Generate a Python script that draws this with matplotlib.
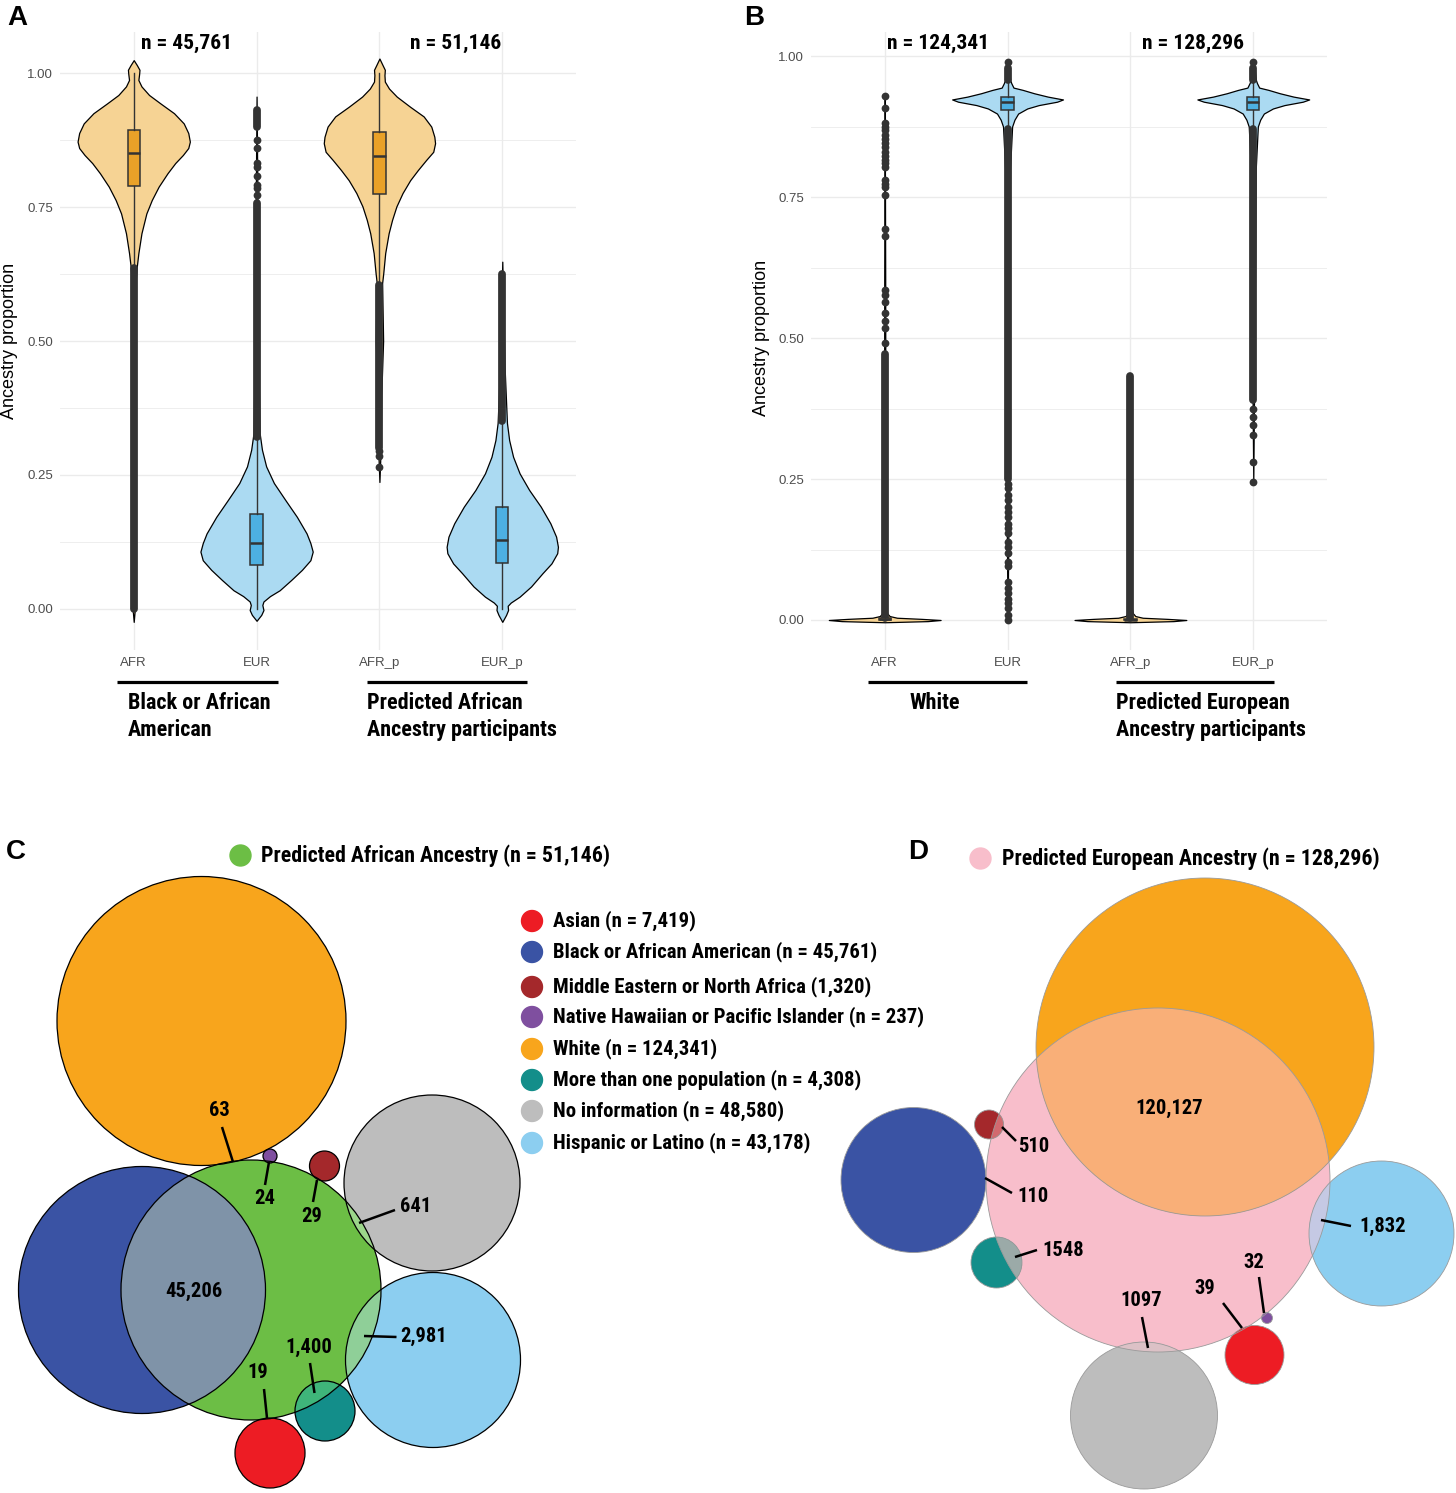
import numpy as np
import matplotlib
matplotlib.use("Agg")
import matplotlib.pyplot as plt
from matplotlib import font_manager as fm
from matplotlib.patches import Ellipse
from matplotlib.lines import Line2D

# ======================= DATA : panels A and B =======================
categories = ["AFR", "EUR", "AFR_p", "EUR_p"]
a_n_labels = ["n = 45,761", "n = 51,146"]
b_n_labels = ["n = 124,341", "n = 128,296"]
a_groups = ["Black or African\nAmerican", "Predicted African\nAncestry participants"]
b_groups = ["White", "Predicted European\nAncestry participants"]
y_label = "Ancestry proportion"

# violin outlines: ancestry value and half width (category units)
a_afr_y = [1.024, 1.015, 1.006, 0.998, 0.987, 0.975, 0.959, 0.943, 0.925, 0.906, 0.888, 0.872,
           0.860, 0.847, 0.832, 0.813, 0.788, 0.763, 0.738, 0.701, 0.664, 0.639, 0.60, 0.40, 0.20, 0.0, -0.024]
a_afr_w = [0.0, 0.025, 0.047, 0.044, 0.038, 0.063, 0.125, 0.219, 0.328, 0.407, 0.444, 0.457,
           0.444, 0.400, 0.338, 0.275, 0.203, 0.147, 0.103, 0.063, 0.038, 0.025, 0.012, 0.009, 0.009, 0.009, 0.0]
a_eur_y = [0.956, 0.70, 0.50, 0.328, 0.297, 0.266, 0.235, 0.203, 0.172, 0.141, 0.123, 0.107, 0.091,
           0.073, 0.054, 0.035, 0.024, 0.014, 0.0075, -0.002, -0.011, -0.022]
a_eur_w = [0.0, 0.009, 0.012, 0.025, 0.044, 0.078, 0.141, 0.235, 0.328, 0.407, 0.438, 0.457, 0.438,
           0.369, 0.281, 0.188, 0.109, 0.056, 0.047, 0.056, 0.038, 0.0]
a_afrp_y = [1.027, 1.015, 1.006, 0.996, 0.984, 0.971, 0.956, 0.937, 0.919, 0.900, 0.881, 0.869,
            0.853, 0.838, 0.819, 0.800, 0.776, 0.751, 0.726, 0.701, 0.664, 0.626, 0.608, 0.50, 0.40, 0.30, 0.237]
a_afrp_w = [0.0, 0.025, 0.044, 0.041, 0.044, 0.078, 0.141, 0.250, 0.360, 0.422, 0.447, 0.453,
            0.438, 0.381, 0.313, 0.250, 0.188, 0.138, 0.103, 0.075, 0.047, 0.031, 0.022, 0.030, 0.015, 0.010, 0.0]
a_eurp_y = [0.648, 0.55, 0.45, 0.347, 0.315, 0.284, 0.253, 0.222, 0.191, 0.160, 0.135, 0.116, 0.104,
            0.085, 0.067, 0.042, 0.023, 0.012, 0.006, -0.002, -0.011, -0.024]
a_eurp_w = [0.0, 0.009, 0.019, 0.038, 0.056, 0.088, 0.141, 0.219, 0.313, 0.391, 0.438, 0.453, 0.447,
            0.400, 0.328, 0.234, 0.141, 0.069, 0.044, 0.047, 0.031, 0.0]

b_afr_y = [-0.004, -0.002, 0.0, 0.002, 0.004, 0.007, 0.012, 0.02, 0.05, 0.3, 0.6, 0.93]
b_afr_w = [0.0, 0.35, 0.455, 0.30, 0.10, 0.04, 0.02, 0.012, 0.008, 0.005, 0.004, 0.0]
b_eur_y = [-0.001, 0.2, 0.5, 0.80, 0.875, 0.887, 0.898, 0.907, 0.913, 0.919, 0.923, 0.928,
           0.934, 0.940, 0.944, 0.952, 0.957, 0.975, 0.99]
b_eur_w = [0.0, 0.008, 0.010, 0.020, 0.037, 0.056, 0.086, 0.160, 0.254, 0.403, 0.451, 0.328,
           0.216, 0.123, 0.048, 0.030, 0.022, 0.012, 0.0]
b_afrp_y = [-0.004, -0.002, 0.0, 0.002, 0.004, 0.007, 0.012, 0.02, 0.05, 0.2, 0.432]
b_afrp_w = [0.0, 0.35, 0.455, 0.30, 0.10, 0.04, 0.02, 0.012, 0.008, 0.005, 0.0]
b_eurp_y = [0.245, 0.5, 0.80, 0.875, 0.887, 0.898, 0.907, 0.913, 0.919, 0.923, 0.928,
            0.934, 0.940, 0.944, 0.952, 0.957, 0.975, 0.99]
b_eurp_w = [0.0, 0.010, 0.020, 0.037, 0.056, 0.086, 0.160, 0.254, 0.403, 0.455, 0.328,
            0.216, 0.123, 0.048, 0.030, 0.022, 0.012, 0.0]

# box statistics (q1, median, q3, whiskers)
a_q1 = [0.790, 0.083, 0.775, 0.085]
a_med = [0.850, 0.124, 0.846, 0.129]
a_q3 = [0.894, 0.177, 0.890, 0.191]
a_lo = [0.636, 0.000, 0.605, 0.000]
a_hi = [1.000, 0.320, 1.000, 0.350]
b_q1 = [0.000, 0.904, 0.000, 0.905]
b_med = [0.001, 0.918, 0.0005, 0.918]
b_q3 = [0.004, 0.928, 0.002, 0.928]
b_lo = [0.000, 0.868, 0.000, 0.870]
b_hi = [0.010, 0.963, 0.005, 0.963]

# outliers: densely packed ranges and single points
a_dense = [[(0.0, 0.636)], [(0.32, 0.757), (0.900, 0.931)], [(0.30, 0.605)], [(0.35, 0.625)]]
a_points = [[], [0.772, 0.785, 0.791, 0.808, 0.825, 0.832, 0.860, 0.875], [0.264, 0.285, 0.295], []]
b_dense = [[(0.004, 0.472)], [(0.25, 0.87), (0.958, 0.978)], [(0.003, 0.432)], [(0.39, 0.87), (0.958, 0.978)]]
b_points = [[0.930, 0.908, 0.881, 0.875, 0.869, 0.860, 0.852, 0.845, 0.838, 0.830, 0.823, 0.816, 0.810,
             0.804, 0.780, 0.773, 0.767, 0.754, 0.693, 0.681, 0.586, 0.576, 0.564, 0.544, 0.531, 0.517, 0.491],
            [0.0, 0.009, 0.021, 0.030, 0.038, 0.047, 0.056, 0.068, 0.095, 0.103, 0.118, 0.130, 0.139,
             0.154, 0.163, 0.171, 0.183, 0.192, 0.201, 0.213, 0.222, 0.234, 0.242, 0.99],
            [],
            [0.245, 0.281, 0.328, 0.346, 0.360, 0.375, 0.99]]

# ======================= DATA : panels C and D =======================
race_groups = ["Asian (n = 7,419)", "Black or African American (n = 45,761)",
               "Middle Eastern or North Africa (1,320)", "Native Hawaiian or Pacific Islander (n = 237)",
               "White (n = 124,341)", "More than one population (n = 4,308)",
               "No information (n = 48,580)", "Hispanic or Latino (n = 43,178)"]
race_colors = ["#ED1C24", "#3A53A4", "#A4282B", "#7F4F9F", "#F8A51C", "#138E8A", "#BDBDBD", "#8CCEF0"]
c_title = "Predicted African Ancestry (n = 51,146)"
d_title = "Predicted European Ancestry (n = 128,296)"
c_main_color = "#6CBE45"
d_main_color = "#F8BECB"
c_counts = ["19", "45,206", "29", "24", "63", "1,400", "641", "2,981"]
d_counts = ["39", "110", "510", "32", "120,127", "1548", "1097", "1,832"]
c_overlap_colors = [None, "#7F93A8", None, None, None, "#3FB57A", "#9CD68A", "#8FCF98"]
d_overlap_colors = [None, None, "#D2696E", None, "#F9AF78", "#9BAAA8", "#DCC1C6", "#C5C9E4"]

# ======================= LAYOUT (pixels) =======================
W, H = 1456, 1493
fig = plt.figure(figsize=(W / 100, H / 100), dpi=100)
renderer = fig.canvas.get_renderer()


def fx(px):
    return px / W


def fy(py):
    return 1 - py / H


def has_font(name, weight="normal"):
    try:
        fm.findfont(fm.FontProperties(family=name, weight=weight), fallback_to_default=False)
        return True
    except Exception:
        return False


NARROW = ["Liberation Sans", "DejaVu Sans"]
for cand in ["Liberation Sans Narrow", "Roboto Condensed", "Arial Narrow", "Open Sans Condensed",
             "Nimbus Sans Narrow"]:
    if has_font(cand, "bold"):
        NARROW = [cand, "DejaVu Sans"]
        break
SANS = ["Liberation Sans", "DejaVu Sans"]


def fit_size(sample, target_px, family=NARROW, weight="bold"):
    t = fig.text(0, 0, sample, fontsize=20, weight=weight, family=family)
    w = t.get_window_extent(renderer).width
    t.remove()
    return 20 * target_px / w


FS_LEG = fit_size("Black or African American (n = 45,761)", 324)
FS_N = fit_size("n = 45,761", 91)
FS_GRP = fit_size("Black or African", 143)
FS_HEAD = fit_size(c_title, 349)
FS_CNT = fit_size("45,206", 57)

# circle layout: centre x, centre y, diameter
c_main = (251, 1290, 260)
c_cx = [270, 142, 324.5, 270, 201.5, 325, 432, 433]
c_cy = [1453, 1290, 1166, 1156, 1021, 1411, 1183, 1360]
c_dm = [70, 247, 30, 14, 289, 60, 176, 175]
c_lab = [(258, 1373), (194, 1291), (312, 1216), (265, 1198), (219, 1111), (309, 1347), (416, 1207), (424, 1336)]
c_lead = [((264, 1389), (267, 1418)), None, ((317, 1180), (313, 1202)), ((269, 1162), (265, 1185)),
          ((222, 1127), (233, 1162)), ((310, 1363), (314.5, 1393)), ((359, 1223), (395, 1210)),
          ((364, 1336), (396.5, 1337))]
d_main = (1158, 1180, 344)
d_cx = [1254.5, 913.5, 989, 1267, 1205, 996.5, 1144, 1381.5]
d_cy = [1355, 1180, 1124.5, 1318, 1047, 1262.5, 1415.5, 1233.5]
d_dm = [59, 145, 29, 11, 338, 51, 147, 145]
d_lab = [(1205, 1288), (1033, 1197), (1034, 1147), (1254, 1263), (1169, 1108), (1063, 1250), (1141, 1300), (1383, 1226)]
d_lead = [((1223, 1303), (1242, 1328)), ((985, 1178), (1012, 1193)), ((1002, 1127), (1016, 1141)),
          ((1259, 1277), (1264, 1313)), None, ((1015, 1257), (1037, 1250)), ((1142, 1317), (1148, 1348)),
          ((1321, 1220), (1351, 1226))]
c_draw_order = [4, 1, 6, 7, 5, 0, 2, 3]
d_draw_order = [4, 1, 2, 5, 7, 6, 0, 3]


# ======================= PANELS A / B =======================
def violin_axes(left_px, ylim):
    ax = fig.add_axes([fx(left_px), fy(650), 516 / W, 618 / H])
    ax.set_facecolor("none")
    ax.set_xlim(-0.6, 3.6)
    ax.set_ylim(*ylim)
    for s in ax.spines.values():
        s.set_visible(False)
    ax.set_xticks(range(len(categories)))
    ax.set_xticklabels(categories)
    ax.set_yticks([0, 0.25, 0.5, 0.75, 1.0])
    ax.set_yticklabels(["0.00", "0.25", "0.50", "0.75", "1.00"])
    ax.set_yticks([0.125, 0.375, 0.625, 0.875], minor=True)
    ax.tick_params(which="both", length=0, labelsize=9.5, labelcolor="#4D4D4D", pad=5)
    ax.grid(True, which="major", color="#EBEBEB", lw=1.0)
    ax.grid(True, which="minor", axis="y", color="#EBEBEB", lw=0.6)
    ax.set_axisbelow(True)
    for lab in ax.get_xticklabels() + ax.get_yticklabels():
        lab.set_family(SANS)
    return ax


def draw_violins(ax, prof_y, prof_w, q1, med, q3, lo, hi, dense, points):
    fills = ["#F6D394", "#ABDAF2", "#F6D394", "#ABDAF2"]
    boxcols = ["#E9A128", "#4DB0E2", "#E9A128", "#4DB0E2"]
    stats = []
    for y, w, m in zip(prof_y, prof_w, med):
        y = np.asarray(y, float)
        w = np.asarray(w, float)
        o = np.argsort(y)
        stats.append(dict(coords=y[o], vals=w[o], mean=m, median=m, min=y.min(), max=y.max()))
    widths = [2 * max(w) for w in prof_w]
    parts = ax.violin(stats, positions=list(range(4)), widths=widths, showextrema=False)
    for body, c in zip(parts["bodies"], fills):
        body.set_alpha(1)
        body.set_facecolor(c)
        body.set_edgecolor("black")
        body.set_linewidth(0.9)
        body.set_zorder(2)
    for i, segs in enumerate(dense):
        for a, b in segs:
            ax.plot([i, i], [a, b], color="#333333", lw=5.6, solid_capstyle="round", zorder=3)
    for i, pts in enumerate(points):
        if pts:
            ax.plot([i] * len(pts), pts, "o", color="#333333", ms=5.6, mew=0, zorder=3)
    bst = [dict(q1=a, med=b, q3=c, whislo=d, whishi=e, fliers=[]) for a, b, c, d, e in zip(q1, med, q3, lo, hi)]
    bp = ax.bxp(bst, positions=list(range(4)), widths=0.1, patch_artist=True, showfliers=False,
                showcaps=False, manage_ticks=False, zorder=4,
                boxprops=dict(edgecolor="#333333", linewidth=1.1),
                medianprops=dict(color="#333333", linewidth=1.8),
                whiskerprops=dict(color="#333333", linewidth=1.0))
    for patch, c in zip(bp["boxes"], boxcols):
        patch.set_facecolor(c)


axA = violin_axes(60, (-0.0765, 1.0765))
draw_violins(axA, [a_afr_y, a_eur_y, a_afrp_y, a_eurp_y], [a_afr_w, a_eur_w, a_afrp_w, a_eurp_w],
             a_q1, a_med, a_q3, a_lo, a_hi, a_dense, a_points)
axB = violin_axes(811, (-0.0532, 1.0426))
draw_violins(axB, [b_afr_y, b_eur_y, b_afrp_y, b_eurp_y], [b_afr_w, b_eur_w, b_afrp_w, b_eurp_w],
             b_q1, b_med, b_q3, b_lo, b_hi, b_dense, b_points)

# y labels
fig.text(fx(10), fy(341), y_label, rotation=90, ha="center", va="center", fontsize=13, family=SANS)
fig.text(fx(761), fy(338), y_label, rotation=90, ha="center", va="center", fontsize=13, family=SANS)

# n labels
for txt, xc in zip(a_n_labels, [187, 455.5]):
    fig.text(fx(xc), fy(43), txt, ha="center", va="center", fontsize=FS_N, weight="bold", family=NARROW)
for txt, xc in zip(b_n_labels, [938, 1193]):
    fig.text(fx(xc), fy(43), txt, ha="center", va="center", fontsize=FS_N, weight="bold", family=NARROW)

# group bars and labels
for x1, x2 in [(117, 278), (367, 527), (868, 1027), (1116, 1274)]:
    fig.add_artist(Line2D([fx(x1), fx(x2)], [fy(682), fy(682)], transform=fig.transFigure,
                          color="black", lw=2.3, solid_capstyle="butt"))
for txt, xl, ha in [(a_groups[0], 128, "left"), (a_groups[1], 367, "left"),
                    (b_groups[0], 935, "center"), (b_groups[1], 1116, "left")]:
    for k, line in enumerate(txt.split("\n")):
        fig.text(fx(xl), fy(703 + 27 * k), line, ha=ha, va="center", fontsize=FS_GRP,
                 weight="bold", family=NARROW)

# panel letters
for letter, (px, py) in zip("ABCD", [(17, 18), (754, 18), (16, 852), (918, 852)]):
    fig.text(fx(px), fy(py), letter, ha="center", va="center", fontsize=20, weight="bold", family=SANS)

# ======================= PANELS C / D =======================
axc = fig.add_axes([0, 0, 1, (H - 830) / H])
axc.set_xlim(0, W)
axc.set_ylim(H, 830)
axc.axis("off")


def draw_bubbles(main, main_color, cx, cy, dm, ov_colors, order, counts, lab, lead, edge, elw):
    mx, my, md = main
    main_patch = Ellipse((mx, my), md, md, facecolor=main_color, edgecolor="none", zorder=1)
    axc.add_patch(main_patch)
    outlines = [(mx, my, md)]
    z = 2
    for i in order:
        p = Ellipse((cx[i], cy[i]), dm[i], dm[i], facecolor=race_colors[i], edgecolor="none", zorder=z)
        axc.add_patch(p)
        if ov_colors[i]:
            ov = Ellipse((cx[i], cy[i]), dm[i], dm[i], facecolor=ov_colors[i], edgecolor="none", zorder=z + 0.5)
            axc.add_patch(ov)
            ov.set_clip_path(main_patch)
        outlines.append((cx[i], cy[i], dm[i]))
        z += 1
    for (x, y, d) in outlines:
        axc.add_patch(Ellipse((x, y), d, d, facecolor="none", edgecolor=edge, lw=elw, zorder=20))
    for i in range(len(counts)):
        axc.text(lab[i][0], lab[i][1], counts[i], ha="center", va="center", fontsize=FS_CNT,
                 weight="bold", family=NARROW, zorder=30)
        if lead[i]:
            (x1, y1), (x2, y2) = lead[i]
            axc.plot([x1, x2], [y1, y2], color="black", lw=1.8, zorder=29, solid_capstyle="butt")


draw_bubbles(c_main, c_main_color, c_cx, c_cy, c_dm, c_overlap_colors, c_draw_order,
             c_counts, c_lab, c_lead, "black", 0.9)
draw_bubbles(d_main, d_main_color, d_cx, d_cy, d_dm, d_overlap_colors, d_draw_order,
             d_counts, d_lab, d_lead, "#9A9A9A", 0.6)

# headers
axc.scatter([240], [855], s=228, color=c_main_color, zorder=30)
axc.text(261, 856, c_title, ha="left", va="center", fontsize=FS_HEAD, weight="bold", family=NARROW)
axc.scatter([980], [858], s=228, color=d_main_color, zorder=30)
axc.text(1002, 859, d_title, ha="left", va="center", fontsize=FS_HEAD, weight="bold", family=NARROW)

# legend of panel C
leg_y = [921, 952, 987, 1017, 1049, 1080, 1111, 1143]
axc.scatter([532] * len(leg_y), leg_y, s=228, c=race_colors, zorder=30)
for txt, yy in zip(race_groups, leg_y):
    axc.text(553, yy, txt, ha="left", va="center", fontsize=FS_LEG, weight="bold", family=NARROW, zorder=30)

fig.savefig("out.png", dpi=100)
